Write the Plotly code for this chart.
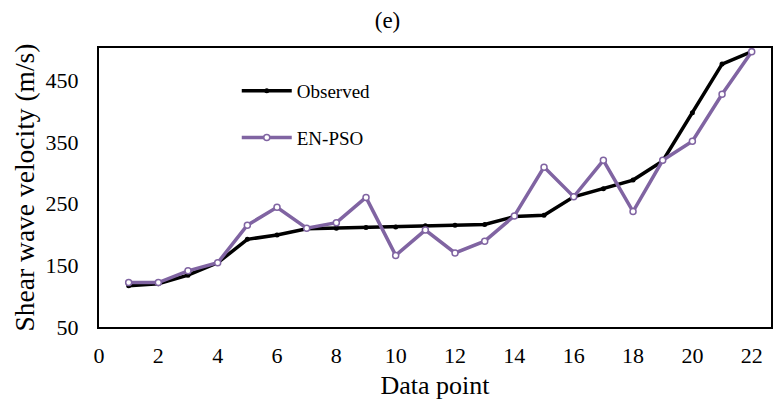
import plotly.graph_objects as go

# Shear wave velocity at each data point
data_point = list(range(1, 23))
observed = [117, 120, 134, 154, 192, 199, 209, 210, 211, 212, 214, 215, 216, 229, 231,
            261, 274, 288, 319, 397, 476, 496]
en_pso = [122, 122, 141, 154, 215, 244, 210, 219, 260, 166, 207, 170, 189, 230, 309,
          261, 320, 237, 320, 351, 427, 496]

x_ticks = list(range(0, 23, 2))
y_ticks = [50, 150, 250, 350, 450]

FONT = "'Times New Roman', 'Liberation Serif', serif"
PURPLE = "#8064A2"

fig = go.Figure()
fig.add_trace(go.Scatter(
    x=data_point, y=observed, name="Observed", mode="lines+markers",
    line=dict(color="black", width=3.5),
    marker=dict(symbol="circle", size=5, color="black"),
    legendgroup="a",
))
fig.add_trace(go.Scatter(
    x=data_point, y=en_pso, name="EN-PSO", mode="lines+markers",
    line=dict(color=PURPLE, width=3.5),
    marker=dict(symbol="circle", size=6, color="white", line=dict(color=PURPLE, width=1.5)),
    legendgroup="b",
))

fig.update_layout(
    width=775, height=407,
    margin=dict(l=99, r=2, t=48, b=80),
    paper_bgcolor="white", plot_bgcolor="white",
    font=dict(family=FONT, color="black", size=22),
    title=dict(text="(e)", x=0.5, xanchor="center", y=0.95, yanchor="middle",
               font=dict(family=FONT, size=23)),
    showlegend=True,
    legend=dict(x=0.205, y=0.914, xanchor="left", yanchor="top",
                bgcolor="rgba(0,0,0,0)", font=dict(family=FONT, size=19),
                itemwidth=50, tracegroupgap=19, traceorder="grouped"),
    xaxis=dict(range=[0, 22.65], tickvals=x_ticks, showgrid=False, zeroline=False,
               showline=True, linecolor="black", linewidth=2, mirror=True,
               ticks="", tickfont=dict(size=22), ticklabelstandoff=8,
               title=dict(text="Data point", font=dict(size=26), standoff=8)),
    yaxis=dict(range=[50, 502], tickvals=y_ticks, showgrid=False, zeroline=False,
               showline=True, linecolor="black", linewidth=2, mirror=True,
               ticks="", tickfont=dict(size=22), ticklabelstandoff=14,
               title=dict(text="Shear wave velocity (m/s)", font=dict(size=27.5), standoff=3)),
)

fig.write_html("out.html")
